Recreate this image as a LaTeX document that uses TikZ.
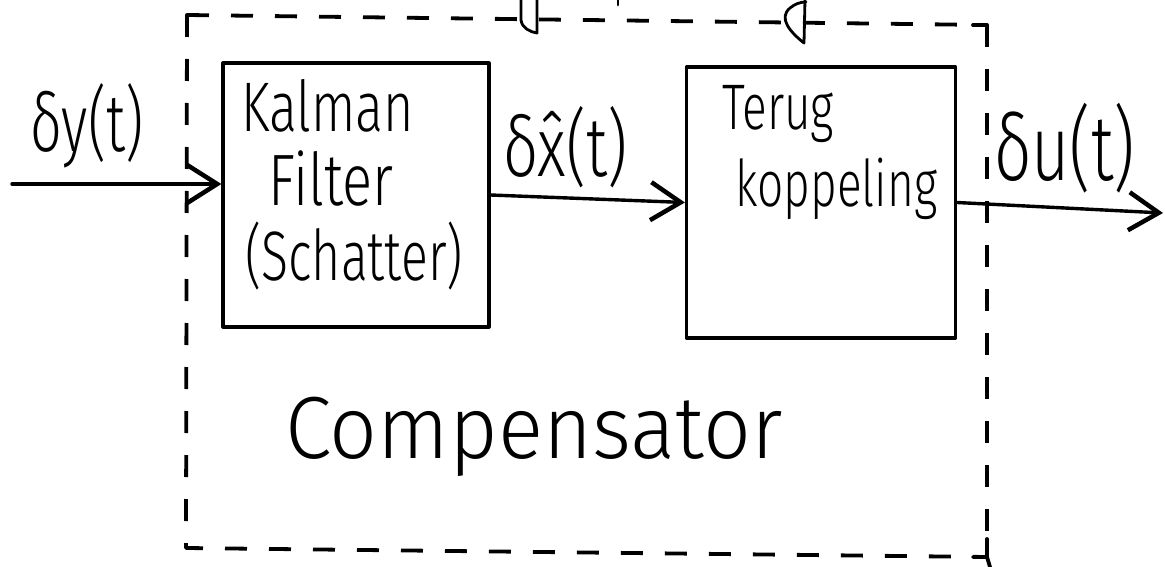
\documentclass[tikz,border=0pt]{standalone}
\usepackage{fontspec}
\setmainfont{Fira Sans Light}
\usetikzlibrary{arrows.meta}
% font size plus a vertical stretch, for the tall hand lettering
\newcommand{\hand}[3]{\scalebox{1}[#2]{\fontsize{#1}{#1}\selectfont #3}}
\begin{document}
\begin{tikzpicture}[x=1pt,y=-1pt,
  ink/.style={line width=3.2pt,line cap=round,line join=round},
  blockbox/.style={ink,draw,rectangle,inner sep=0pt},
  sig/.style={ink,line width=3.4pt,-{Straight Barb[length=30pt,width=38pt,line width=4.5pt]}},
  frame/.style={ink,line width=3.8pt,line cap=butt,dash pattern=on 22pt off 22pt},
  lbl/.style={anchor=base west,inner sep=0pt}]
\useasboundingbox (0,0) rectangle (1165,567);
\fill[white] (0,0) rectangle (1165,567);

% compensator frame
\coordinate (tl) at (187,15);
\coordinate (tr) at (987,25);
\coordinate (bl) at (186,548);
\coordinate (br) at (987,557);
\draw[frame] (tl) -- (tr);
\draw[frame] (tl) -- (bl) -- (br);
\draw[frame] (tr) -- (br);
\draw[ink,line width=3.8pt] (tl) -- ++(0,20);
\draw[ink,line width=3.8pt] (tr) -- ++(-14,0) (tr) -- ++(0,14);
\draw[ink,line width=3.8pt] (br) ++(-14,0) -- (br) -- (990,567);
\draw[ink,line width=3.8pt] (br) -- ++(0,-18);

% descender strokes crossing the frame top
\draw[ink,line width=2.8pt] (521,0) -- (521,20) .. controls (522,28) and (530,32) .. (537,33) -- (537,0);
\draw[ink,line width=2.8pt] (805,0) -- (804,43) .. controls (790,32) and (778,18) .. (790,8) .. controls (795,4) and (800,2) .. (806,2);
\draw[ink,line width=2.8pt] (618,0) -- (618,5);

% blocks
\node[blockbox,minimum width=266pt,minimum height=264pt] (kal) at (356,195) {};
\node[blockbox,minimum width=269pt,minimum height=271pt] (ter) at (821,202.5) {};

% signals
\coordinate (in) at (12,184);
\coordinate (out) at (1163,213);
\draw[sig] (in) -- (in -| kal.west);
\draw[sig] (kal.east) -- (ter.west);
\draw[sig] (ter.east) -- (out);

% texts
\node[lbl] (ly) at (30,152) {\hand{56}{1.45}{δy(t)}};
\node[lbl] (lx) at (503,177) {\hand{62}{1.35}{δ\^{x}(t)}};
\node[lbl] (lu) at (994,180) {\hand{66}{1.4}{δu(t)}};
\node[lbl] (t1) at (241,132) {\hand{52}{1.35}{Kalman}};
\node[lbl] (t2) at (268,205) {\hand{56}{1.3}{Filter}};
\node[lbl] (t3) at (245,280) {\hand{50}{1.4}{(Schatter)}};
\node[lbl] (t4) at (722,130) {\hand{46}{1.4}{Terug}};
\node[lbl] (t5) at (735,207) {\hand{46}{1.4}{koppeling}};
\node[lbl] (t6) at (285,458) {\hand{84}{1.05}{Compensator}};
\end{tikzpicture}
\end{document}
